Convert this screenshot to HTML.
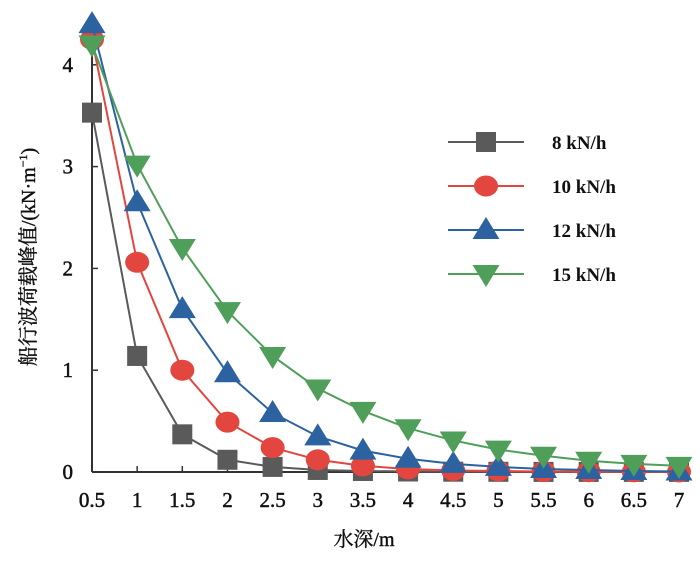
<!DOCTYPE html>
<html><head><meta charset="utf-8"><style>
body{margin:0;background:#fff}
svg text{font-family:"Liberation Serif","Noto Serif CJK SC",serif;fill:#111}
</style></head><body>
<svg id="c" width="700" height="571" xmlns="http://www.w3.org/2000/svg"></svg>
<script>
const categories=[0.5,1,1.5,2,2.5,3,3.5,4,4.5,5,5.5,6,6.5,7];
const s8=[3.53,1.14,0.37,0.12,0.05,0.02,0.01,0.005,0.003,0.002,0.001,0.001,0.001,0.001];
const s10=[4.25,2.06,1.0,0.49,0.24,0.12,0.06,0.03,0.015,0.01,0.005,0.003,0.002,0.001];
const s12=[4.4,2.65,1.6,0.97,0.58,0.35,0.21,0.13,0.08,0.05,0.03,0.02,0.01,0.005];
const s15=[4.2,3.02,2.2,1.58,1.14,0.82,0.6,0.43,0.31,0.22,0.16,0.11,0.08,0.06];
const xTicks=["0.5","1","1.5","2","2.5","3","3.5","4","4.5","5","5.5","6","6.5","7"];
const yTicks=[0,1,2,3,4];
const seriesNames=["8 kN/h","10 kN/h","12 kN/h","15 kN/h"];
const NS="http://www.w3.org/2000/svg";
const svg=document.getElementById('c');
const X=v=>92+(v-0.5)/6.5*587;
const Y=v=>472-v*101.8;
function el(t,a,p){const e=document.createElementNS(NS,t);for(const k in a)e.setAttribute(k,a[k]);(p||svg).appendChild(e);return e;}
let ax=el('line',{x1:92,y1:472,x2:680,y2:472,stroke:'#333','stroke-width':2});


let ay=el('line',{x1:92,y1:472,x2:92,y2:14,stroke:'#333','stroke-width':2});


categories.forEach((c,i)=>{
 el('line',{x1:X(c),y1:472,x2:X(c),y2:466,stroke:'#333','stroke-width':1.5});
 const t=el('text',{x:X(c),y:507,'text-anchor':'middle','font-size':21,stroke:'#111','stroke-width':0.5});
 t.textContent=xTicks[i];
 
 
});
yTicks.forEach(v=>{
 el('line',{x1:92,y1:Y(v),x2:98,y2:Y(v),stroke:'#333','stroke-width':1.5});
 const t=el('text',{x:73,y:Y(v)+7,'text-anchor':'end','font-size':21,stroke:'#111','stroke-width':0.5});
 t.textContent=v;
 
 
});
const colors=['#5a5a5a','#e2463f','#2c62a0','#4f9e5a'];
const data=[s8,s10,s12,s15];
function marker(k,cx,cy,g){
 const c=colors[k];
 if(k===0)return el('rect',{x:cx-10,y:cy-10,width:20,height:20,fill:c},g);
 if(k===1)return el('ellipse',{cx:cx,cy:cy,rx:12,ry:10.5,fill:c},g);
 if(k===2)return el('polygon',{points:`${cx},${cy-13} ${cx-13.5},${cy+9} ${cx+13.5},${cy+9}`,fill:c},g);
 return el('polygon',{points:`${cx},${cy+13} ${cx-13.5},${cy-9} ${cx+13.5},${cy-9}`,fill:c},g);
}
data.forEach((s,k)=>{
 const g=el('g',{});
 
 
 el('polyline',{points:s.map((v,i)=>X(categories[i])+','+Y(v)).join(' '),fill:'none',stroke:colors[k],'stroke-width':2},g);
 s.forEach((v,i)=>{const m=marker(k,X(categories[i]),Y(v),g);
  
  });
 const lg=el('g',{});
 
 
 const ly=142+k*44;
 el('line',{x1:448,y1:ly,x2:524,y2:ly,stroke:colors[k],'stroke-width':2},lg);
 marker(k,486,ly,lg);
 const t=el('text',{x:552,y:ly+7,'font-size':19,'font-weight':'bold'},lg);
 t.textContent=seriesNames[k];
});
const xt=el('text',{x:364,y:546,'text-anchor':'middle','font-size':20,stroke:'#111','stroke-width':0.4});
xt.textContent='水深/m';


const yt=el('text',{x:0,y:0,'text-anchor':'middle','font-size':20,stroke:'#111','stroke-width':0.4,transform:'translate(35,257) rotate(-90)'});
yt.innerHTML='船行波荷载峰值/(kN·m<tspan dy="-8" font-size="12">−1</tspan><tspan dy="8">)</tspan>';


</script>
</body></html>
